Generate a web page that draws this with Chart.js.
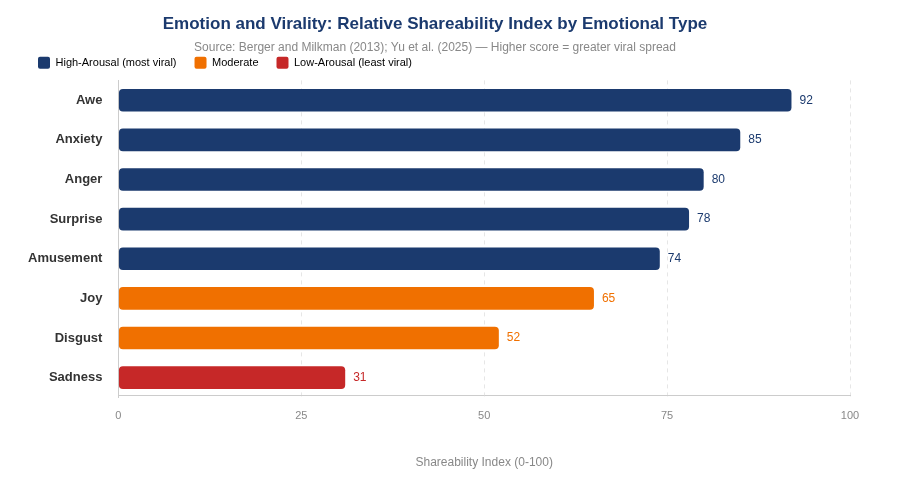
<!DOCTYPE html>
<html><head><meta charset="utf-8">
<script src="https://cdn.jsdelivr.net/npm/chart.js@4"></script>
<style>body{margin:0;background:#fff}#w{width:900px;height:480px}</style>
</head><body><div id="w"><canvas id="c"></canvas></div>
<script>
const categories=["Awe","Anxiety","Anger","Surprise","Amusement","Joy","Disgust","Sadness"];
const values=[92,85,80,78,74,65,52,31];
const groups=["high","high","high","high","high","mod","mod","low"];
const groupNames={high:"High-Arousal (most viral)",mod:"Moderate",low:"Low-Arousal (least viral)"};
const groupColors={high:"#1b3a6e",mod:"#f07000",low:"#c62828"};
const xTicks=[0,25,50,75,100];
const colors=groups.map(g=>groupColors[g]);
const labelPlugin={id:"lbl",afterDatasetsDraw(ch){const ctx=ch.ctx;const m=ch.getDatasetMeta(0);ctx.save();ctx.font="12px Liberation Sans, Arial";ctx.textBaseline="middle";m.data.forEach((b,i)=>{ctx.fillStyle=colors[i];ctx.fillText(values[i],b.x+8,b.y);});ctx.restore();}};
new Chart(document.getElementById("c"),{type:"bar",
data:{labels:categories,datasets:[{data:values,backgroundColor:colors,borderRadius:4,borderSkipped:false,barPercentage:0.6,categoryPercentage:0.95}]},
options:{indexAxis:"y",responsive:true,maintainAspectRatio:false,animation:false,
layout:{padding:{left:20,right:50,top:10,bottom:5}},
plugins:{title:{display:true,text:"Emotion and Virality: Relative Shareability Index by Emotional Type",color:"#1b3a6e",font:{family:"Liberation Sans, Arial",size:17,weight:"bold"},padding:{top:4,bottom:6}},
subtitle:{display:true,text:"Source: Berger and Milkman (2013); Yu et al. (2025) — Higher score = greater viral spread",color:"#888",font:{family:"Liberation Sans, Arial",size:12},padding:{top:0,bottom:-16}},
legend:{align:"start",labels:{boxWidth:12,boxHeight:12,color:"#888",font:{family:"Liberation Sans, Arial",size:11},padding:18,
generateLabels:()=>Object.keys(groupNames).map(k=>({text:groupNames[k],fillStyle:groupColors[k],strokeStyle:groupColors[k],lineWidth:0,borderRadius:2}))}},
tooltip:{enabled:false}},
scales:{x:{min:0,max:100,afterBuildTicks(a){a.ticks=xTicks.map(v=>({value:v}));},grid:{color:"#e6e6e6",borderDash:[4,4],drawTicks:false},border:{color:"#ccc",dash:[4,4]},ticks:{color:"#888",padding:14,font:{family:"Liberation Sans, Arial",size:11}},
title:{display:true,text:"Shareability Index (0-100)",color:"#888",font:{family:"Liberation Sans, Arial",size:12},padding:{top:18}}},
y:{grid:{display:false},border:{color:"#ccc"},ticks:{color:"#333",padding:8,font:{family:"Liberation Sans, Arial",size:13,weight:"bold"}}}}},
plugins:[labelPlugin]});
</script></body></html>
